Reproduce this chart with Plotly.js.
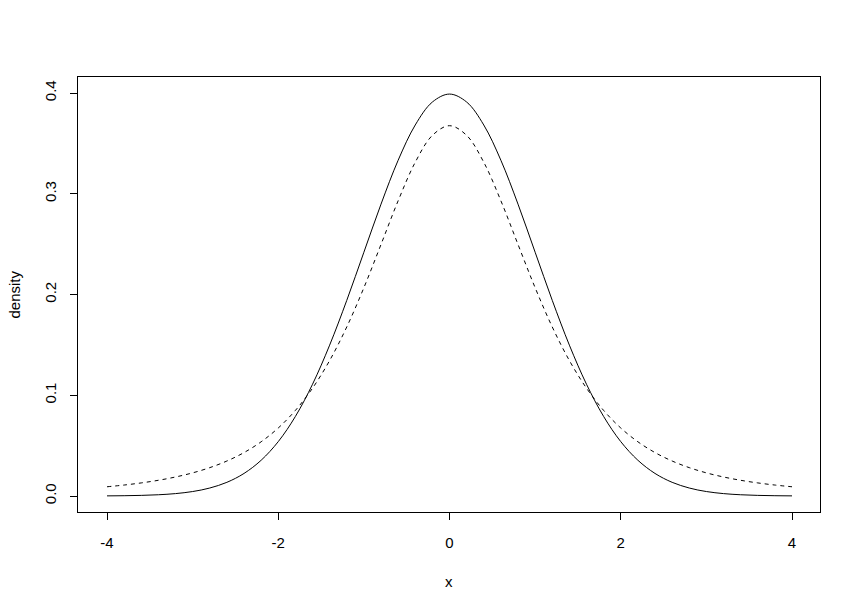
<!DOCTYPE html>
<html>
<head>
<meta charset="utf-8">
<script src="https://cdn.plot.ly/plotly-3.0.1.min.js"></script>
<style>html,body{margin:0;padding:0;background:#fff;}#chart{width:860px;height:610px;}</style>
</head>
<body>
<div id="chart"></div>
<script>
var xValues = [-4.0,-3.8,-3.6,-3.4,-3.2,-3.0,-2.8,-2.6,-2.4,-2.2,-2.0,-1.8,-1.6,-1.4,-1.2,-1.0,-0.8,-0.6,-0.4,-0.2,0.0,0.2,0.4,0.6,0.8,1.0,1.2,1.4,1.6,1.8,2.0,2.2,2.4,2.6,2.8,3.0,3.2,3.4,3.6,3.8,4.0];
var normalDensity = [0.00013,0.00029,0.00061,0.00123,0.00238,0.00443,0.00792,0.01358,0.02239,0.03547,0.05399,0.07895,0.11092,0.14973,0.19419,0.24197,0.28969,0.33322,0.36827,0.39104,0.39894,0.39104,0.36827,0.33322,0.28969,0.24197,0.19419,0.14973,0.11092,0.07895,0.05399,0.03547,0.02239,0.01358,0.00792,0.00443,0.00238,0.00123,0.00061,0.00029,0.00013];
var tDensity = [0.00916,0.01088,0.01299,0.01560,0.01887,0.02297,0.02815,0.03473,0.04311,0.05382,0.06751,0.08495,0.10701,0.13446,0.16780,0.20675,0.24967,0.29301,0.33127,0.35794,0.36755,0.35794,0.33127,0.29301,0.24967,0.20675,0.16780,0.13446,0.10701,0.08495,0.06751,0.05382,0.04311,0.03473,0.02815,0.02297,0.01887,0.01560,0.01299,0.01088,0.00916];
var xTicks = [-4,-2,0,2,4];
var xTickLabels = ["-4","-2","0","2","4"];
var yTicks = [0.0,0.1,0.2,0.3,0.4];
var yTickLabels = ["0.0","0.1","0.2","0.3","0.4"];
var xTitle = "x";
var yTitle = "density";

var traces = [
  {x: xValues, y: normalDensity, type: 'scatter', mode: 'lines', line: {color: '#000', width: 1, shape: 'spline', smoothing: 1}, hoverinfo: 'none'},
  {x: xValues, y: tDensity, type: 'scatter', mode: 'lines', line: {color: '#000', width: 1, dash: '4px,4px', shape: 'spline', smoothing: 1}, hoverinfo: 'none'}
];
var font = {family: 'Liberation Sans, Arial, sans-serif', size: 15, color: '#000'};
var layout = {
  width: 860, height: 610,
  margin: {l: 78, r: 40, t: 77, b: 98},
  paper_bgcolor: '#fff', plot_bgcolor: '#fff',
  showlegend: false,
  font: font,
  xaxis: {
    range: [-4.339, 4.327], tickvals: xTicks, ticktext: xTickLabels,
    ticks: 'outside', ticklen: 7, tickwidth: 1, tickcolor: '#000',
    ticklabelstandoff: 10,
    showline: true, linecolor: '#000', linewidth: 1, mirror: true,
    showgrid: false, zeroline: false, tickfont: font
  },
  yaxis: {
    range: [-0.01588, 0.41588], tickvals: yTicks, ticktext: yTickLabels,
    ticks: 'outside', ticklen: 7, tickwidth: 1, tickcolor: '#000', tickangle: -90,
    ticklabelstandoff: 8,
    showline: true, linecolor: '#000', linewidth: 1, mirror: true,
    showgrid: false, zeroline: false, tickfont: font
  },
  annotations: [
    {text: xTitle, xref: 'paper', yref: 'paper', x: 0.5, y: 0, yshift: -69, xanchor: 'center', yanchor: 'middle', showarrow: false, font: font},
    {text: yTitle, xref: 'paper', yref: 'paper', x: 0, y: 0.5, xshift: -64, xanchor: 'center', yanchor: 'middle', textangle: -90, showarrow: false, font: font}
  ]
};
Plotly.newPlot('chart', traces, layout, {staticPlot: true, displayModeBar: false});
</script>
</body>
</html>
